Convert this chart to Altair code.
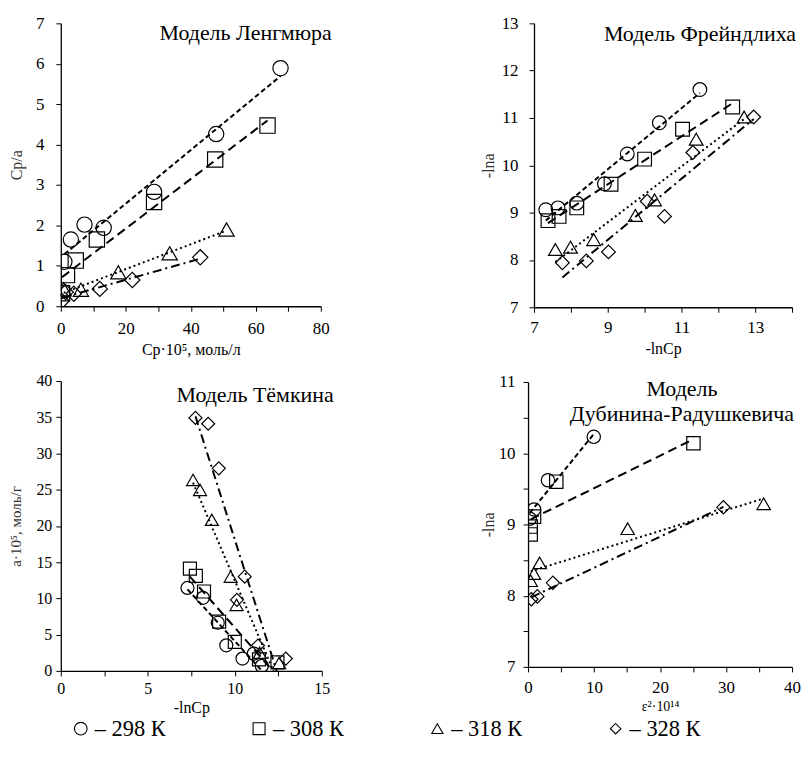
import altair as alt
import pandas as pd

SERIES = ["298 К", "308 К", "318 К", "328 К"]
LEGEND_LABELS = ["– 298 К", "– 308 К", "– 318 К", "– 328 К"]
SHAPES = ["circle", "square", "triangle-up", "diamond"]
DASHES = [[5, 3], [9, 5], [2, 3], [9, 4, 2, 4]]
FONT = "Liberation Serif, Times New Roman, DejaVu Serif, serif"

# ---- Модель Ленгмюра: Cp·10^5 vs Cp/a
lang_x = [
    [1.1, 3.1, 7.3, 13.2, 28.7, 47.8, 67.6],
    [0.4, 1.9, 4.6, 11.1, 28.7, 47.5, 63.6],
    [0.9, 6.2, 17.7, 33.5, 51.0],
    [0.3, 1.5, 4.0, 12.0, 22.0, 42.9],
]
lang_y = [
    [1.10, 1.65, 2.02, 1.94, 2.83, 4.26, 5.89],
    [0.32, 0.77, 1.13, 1.65, 2.58, 3.63, 4.47],
    [0.42, 0.41, 0.84, 1.31, 1.90],
    [0.13, 0.35, 0.31, 0.43, 0.65, 1.21],
]

# ---- Модель Фрейндлиха: -lnCp vs -lna
fr_x = [
    [7.32, 7.65, 8.16, 8.91, 9.53, 10.40, 11.50],
    [7.38, 7.68, 8.16, 9.09, 10.00, 11.03, 12.39],
    [7.58, 7.99, 8.62, 9.75, 10.27, 11.40, 12.70],
    [7.77, 8.42, 9.02, 10.07, 10.54, 11.31, 12.96],
]
fr_y = [
    [9.06, 9.10, 9.20, 9.61, 10.24, 10.90, 11.60],
    [8.83, 8.92, 9.10, 9.60, 10.13, 10.76, 11.23],
    [8.22, 8.27, 8.43, 8.94, 9.27, 10.55, 11.02],
    [7.94, 7.98, 8.17, 9.24, 8.92, 10.27, 11.02],
]

# ---- Модель Тёмкина: -lnCp vs a·10^5
tk_x = [
    [7.28, 8.17, 9.02, 9.51, 10.44, 11.09, 11.55],
    [7.42, 7.76, 8.23, 9.10, 10.00, 11.39, 12.45],
    [7.60, 8.00, 8.68, 9.76, 10.10, 11.43, 12.55],
    [7.74, 8.47, 9.08, 10.57, 10.12, 11.33, 12.93],
]
tk_y = [
    [11.45, 10.08, 6.64, 3.53, 1.70, 2.38, 0.69],
    [14.10, 13.10, 10.95, 6.80, 4.00, 1.60, 1.17],
    [26.35, 24.97, 20.85, 13.00, 9.10, 2.50, 1.10],
    [34.90, 34.10, 27.95, 13.00, 9.80, 3.50, 1.70],
]

# ---- Модель Дубинина-Радушкевича: ε²·10^14 vs -lna
dr_x = [
    [0.25, 0.91, 3.02, 9.96],
    [0.40, 0.40, 0.91, 4.28, 25.06],
    [0.40, 0.90, 1.76, 15.10, 35.70],
    [0.50, 1.41, 3.77, 29.60],
]
dr_y = [
    [9.08, 9.21, 9.62, 10.23],
    [8.86, 8.97, 9.11, 9.60, 10.14],
    [8.21, 8.31, 8.46, 8.94, 9.29],
    [7.95, 7.99, 8.18, 9.24],
]


def make_df(xs_list, ys_list):
    rows = []
    for s, xs, ys in zip(SERIES, xs_list, ys_list):
        for x, y in zip(xs, ys):
            rows.append({"series": s, "x": x, "y": y})
    return pd.DataFrame(rows)


def panel(df, xdom, xvals, xlab, ydom, yvals, ylab, xtitle, ytitle, title, size,
          w, h, xlabpad=9, ylabpad=6, ytitlepad=6, xtitlepad=5, xtitlesize=16,
          ytitlesize=16, labsize=17):
    x_axis = alt.Axis(values=xvals, labelExpr=xlab, title=xtitle, grid=False,
                      labelFlush=False, labelPadding=xlabpad, titlePadding=xtitlepad,
                      titleFontSize=xtitlesize, titleColor="black", labelFontSize=labsize)
    y_axis = alt.Axis(values=yvals, labelExpr=ylab, title=ytitle, grid=False,
                      labelPadding=ylabpad, titlePadding=ytitlepad, labelFontSize=labsize,
                      titleFontSize=ytitlesize, titleColor="#333333")
    base = alt.Chart(df).encode(
        x=alt.X("x:Q", scale=alt.Scale(domain=xdom, nice=False, zero=False), axis=x_axis),
        y=alt.Y("y:Q", scale=alt.Scale(domain=ydom, nice=False, zero=False), axis=y_axis),
    )
    lines = base.transform_regression("x", "y", groupby=["series"]).mark_line(
        color="black", strokeWidth=2, clip=True
    ).encode(
        strokeDash=alt.StrokeDash("series:N", scale=alt.Scale(domain=SERIES, range=DASHES), legend=None),
    )
    pts = base.mark_point(filled=False, color="black", strokeWidth=1.2, opacity=1,
                          size=size, clip=True).encode(
        shape=alt.Shape("series:N", scale=alt.Scale(domain=SERIES, range=SHAPES), legend=None),
    )
    return alt.layer(lines, pts).properties(width=w, height=h, title=title)


def ttl(text, dx, offset, size=22):
    return alt.TitleParams(text=text, anchor="end", frame="group", orient="top",
                           offset=offset, dx=dx, font=FONT, fontSize=size,
                           fontWeight="normal", color="black", baseline="alphabetic")


p1 = panel(make_df(lang_x, lang_y), [0, 80], list(range(0, 81, 10)), "datum.value % 20 == 0 ? datum.label : ''",
           [0, 7], list(range(0, 8)), "datum.label",
           "Cp·10⁵, моль/л", "Cp/a", ttl("Модель Ленгмюра", 11, -48), 235, 261, 284,
           ylabpad=12, ytitlepad=11)
p2 = panel(make_df(fr_x, fr_y), [7, 14], list(range(7, 15)), "(datum.value - 7) % 2 == 0 && datum.value < 14 ? datum.label : ''",
           [7, 13], list(range(7, 14)), "datum.label",
           "-lnCp", "-lna", ttl("Модель Фрейндлиха", 4, -49), 190, 259, 285,
           xlabpad=7, ylabpad=11, ytitlepad=5)
p3 = panel(make_df(tk_x, tk_y), [0, 15], [0, 2.5, 5, 7.5, 10, 12.5, 15], "datum.value % 5 == 0 ? datum.label : ''",
           [0, 40], list(range(0, 41, 5)), "datum.label",
           "-lnCp", "a·10⁵, моль/г", ttl("Модель Тёмкина", 12, -51), 170, 262, 291,
           xlabpad=5, ylabpad=4, ytitlepad=12, ytitlesize=15, labsize=16, xtitlepad=3)
p4 = panel(make_df(dr_x, dr_y), [0, 40], list(range(0, 41, 5)), "datum.value % 10 == 0 ? datum.label : ''",
           [7, 11], [7, 7.5, 8, 8.5, 9, 9.5, 10, 10.5, 11], "datum.value % 1 == 0 ? format(datum.value, 'd') : ''",
           "ε²·10¹⁴", "-lna",
           alt.TitleParams(text=["Модель", "Дубинина-Радушкевича"], anchor="middle", frame="group",
                           orient="top", offset=-70, dx=22, font=FONT, fontSize=22, lineHeight=25,
                           fontWeight="normal", color="black", baseline="alphabetic"),
           180, 265, 286, xlabpad=8, ylabpad=8, ytitlepad=2, xtitlesize=14, xtitlepad=4)

legend_df = pd.DataFrame({"series": SERIES, "label": LEGEND_LABELS})
leg_base = alt.Chart(legend_df).encode(
    x=alt.X("series:N", scale=alt.Scale(domain=SERIES, type="point", padding=0.112), axis=None),
)
leg_pts = leg_base.mark_point(filled=False, color="black", strokeWidth=1.1, opacity=1).encode(
    shape=alt.Shape("series:N", scale=alt.Scale(domain=SERIES, range=SHAPES), legend=None),
    size=alt.Size("series:N", scale=alt.Scale(domain=SERIES, range=[160, 110, 150, 120]), legend=None),
)
leg_txt = leg_base.mark_text(align="left", baseline="middle", dx=14, font=FONT, fontSize=22.5,
                             color="black").encode(text="label:N")
legend_chart = alt.layer(leg_pts, leg_txt).properties(width=577, height=24)

grid = alt.concat(p1, p2, p3, p4, columns=2, align="none", spacing={"row": 16, "column": 147})

chart = alt.vconcat(grid, legend_chart, spacing=1).resolve_scale(
    shape="independent", size="independent", strokeDash="independent"
).properties(
    padding={"left": 0, "top": 5, "right": 0, "bottom": 0},
).configure(
    font=FONT,
).configure_view(stroke=None).configure_axis(
    domainColor="black", tickColor="black", tickSize=5, labelFont=FONT, labelFontSize=17,
    labelColor="black", titleFont=FONT, titleFontWeight="normal", domainWidth=1.3,
)

chart.save("out.html", embed_options={"renderer": "svg", "actions": False})
